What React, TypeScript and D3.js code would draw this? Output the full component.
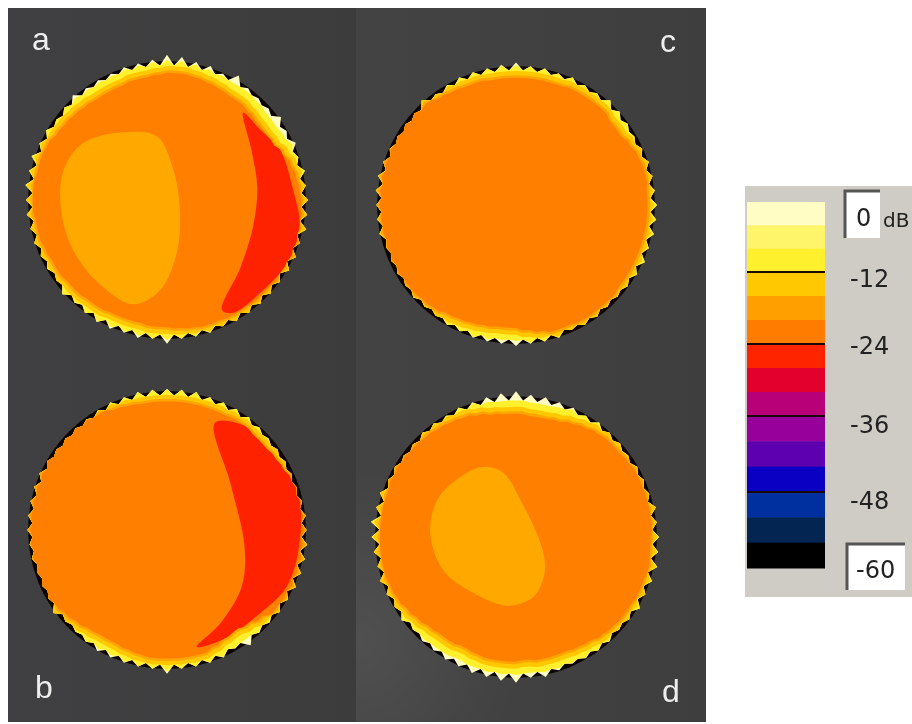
import * as d3 from "d3";

// colour map, one band every 4 dB from 0 down to -60
const bandColors = ["#fffcc4", "#fff56a", "#fff02e", "#ffc800", "#ffa000", "#ff7c00", "#ff2400", "#e4002c", "#b80078", "#98009c", "#5c00b0", "#0a00c4", "#0030a0", "#022552", "#000000"];
const bandStep = 4;
const tickDb = [-12, -24, -36, -48];
// rim colours from the outside in, with how far above the orange body each one starts
const rimColors = ["#fffcc4", "#fff02e", "#ffc800", "#ffa400"];
const rimDepths = [0.105, 0.06, 0.03, 0.012];

// clockwise from the top, one value per 6 degrees, radius as a share of the sphere radius
const peaksA = [1.03, 1.02, 1.0, 1.0, 0.98, 1.02, 0.98, 0.97, 0.97, 1.0, 0.98, 1.0, 0.98, 1.0, 0.99, 1.0, 1.0, 1.01, 0.99, 1.0, 1.0, 0.99, 0.99, 0.99, 0.99, 0.99, 0.98, 0.99, 0.99, 0.99, 1.02, 0.99, 1.0, 0.99, 1.0, 1.0, 0.99, 0.98, 1.0, 0.97, 0.98, 0.98, 0.99, 0.99, 1.0, 1.0, 1.01, 1.0, 1.01, 0.99, 0.99, 0.97, 0.98, 1.0, 0.98, 0.98, 0.98, 0.99, 0.99, 1.0];
const innerA = [0.89, 0.89, 0.88, 0.87, 0.86, 0.85, 0.85, 0.84, 0.83, 0.83, 0.84, 0.87, 0.9, 0.92, 0.93, 0.94, 0.95, 0.95, 0.96, 0.96, 0.95, 0.95, 0.94, 0.94, 0.93, 0.93, 0.92, 0.92, 0.91, 0.9, 0.89, 0.89, 0.88, 0.88, 0.88, 0.89, 0.89, 0.9, 0.9, 0.91, 0.91, 0.92, 0.93, 0.93, 0.94, 0.94, 0.94, 0.93, 0.93, 0.92, 0.9, 0.89, 0.88, 0.87, 0.86, 0.86, 0.86, 0.87, 0.87, 0.88];
const peaksB = [1.0, 1.0, 1.0, 0.99, 0.99, 0.99, 0.99, 0.98, 0.97, 0.97, 0.97, 0.97, 0.97, 0.98, 0.99, 0.99, 1.0, 1.0, 1.0, 1.0, 0.99, 0.99, 0.98, 0.98, 1.01, 0.97, 0.99, 0.99, 0.99, 0.99, 1.02, 0.99, 0.99, 0.99, 0.99, 0.99, 0.98, 0.97, 0.97, 1.0, 0.97, 0.97, 0.97, 0.98, 0.98, 0.99, 0.99, 0.99, 0.99, 0.99, 0.98, 0.97, 0.97, 0.97, 0.97, 0.98, 0.99, 0.99, 1.0, 1.0];
const innerB = [0.9, 0.9, 0.9, 0.9, 0.9, 0.91, 0.91, 0.9, 0.9, 0.91, 0.92, 0.94, 0.95, 0.96, 0.96, 0.96, 0.96, 0.96, 0.96, 0.96, 0.95, 0.94, 0.9, 0.87, 0.85, 0.86, 0.88, 0.9, 0.9, 0.9, 0.9, 0.9, 0.89, 0.88, 0.87, 0.87, 0.88, 0.9, 0.92, 0.94, 0.96, 0.96, 0.96, 0.96, 0.96, 0.96, 0.96, 0.96, 0.96, 0.96, 0.97, 0.97, 0.97, 0.96, 0.95, 0.94, 0.92, 0.91, 0.9, 0.9];
const peaksC = [1.01, 0.99, 0.99, 0.98, 0.99, 0.98, 0.98, 1.0, 0.99, 0.98, 0.97, 0.98, 0.99, 0.99, 0.99, 1.0, 1.0, 1.0, 0.99, 1.0, 0.99, 0.98, 0.97, 0.97, 0.98, 0.98, 0.97, 0.99, 0.99, 0.99, 1.0, 0.99, 0.99, 0.99, 0.98, 0.98, 0.97, 0.97, 0.98, 0.97, 0.97, 0.97, 0.97, 0.99, 0.99, 0.99, 1.0, 1.0, 0.99, 0.98, 0.97, 0.97, 0.97, 1.0, 0.97, 0.98, 0.99, 0.99, 0.99, 1.0];
const innerC = [0.89, 0.89, 0.89, 0.89, 0.9, 0.9, 0.9, 0.9, 0.88, 0.88, 0.9, 0.92, 0.93, 0.93, 0.92, 0.92, 0.92, 0.92, 0.92, 0.92, 0.92, 0.92, 0.93, 0.93, 0.93, 0.93, 0.92, 0.92, 0.9, 0.88, 0.86, 0.86, 0.87, 0.88, 0.89, 0.9, 0.92, 0.93, 0.94, 0.94, 0.95, 0.95, 0.95, 0.95, 0.95, 0.96, 0.96, 0.96, 0.96, 0.96, 0.96, 0.96, 0.96, 0.95, 0.92, 0.91, 0.9, 0.9, 0.89, 0.89];
const peaksD = [1.02, 1.0, 1.0, 0.99, 0.99, 0.98, 0.99, 0.98, 0.98, 0.97, 0.98, 0.98, 0.98, 1.0, 0.99, 1.0, 1.0, 1.01, 1.0, 0.99, 1.0, 0.98, 0.97, 0.98, 0.98, 0.98, 0.97, 0.98, 1.0, 0.99, 1.02, 1.01, 1.0, 1.0, 0.99, 0.99, 0.98, 0.98, 0.97, 0.99, 0.98, 0.99, 1.0, 0.99, 1.0, 1.01, 1.02, 1.0, 1.0, 0.98, 0.98, 0.97, 0.97, 0.98, 0.98, 0.98, 0.99, 0.99, 1.0, 1.01];
const innerD = [0.85, 0.84, 0.84, 0.85, 0.87, 0.89, 0.91, 0.92, 0.92, 0.93, 0.94, 0.94, 0.94, 0.94, 0.94, 0.93, 0.93, 0.94, 0.93, 0.93, 0.92, 0.92, 0.91, 0.9, 0.88, 0.87, 0.86, 0.86, 0.86, 0.85, 0.86, 0.86, 0.86, 0.85, 0.84, 0.85, 0.85, 0.86, 0.88, 0.9, 0.92, 0.93, 0.94, 0.94, 0.94, 0.94, 0.94, 0.94, 0.94, 0.95, 0.95, 0.95, 0.94, 0.93, 0.92, 0.91, 0.9, 0.88, 0.86, 0.85];

// contours inside the sphere, x and y run from -1 to 1
const redA: [number, number][] = [[0.54, 0.62], [0.6, 0.35], [0.64, 0.09], [0.61, -0.19], [0.52, -0.48], [0.39, -0.78], [0.47, -0.8], [0.66, -0.66], [0.85, -0.45], [0.94, -0.19], [0.89, 0.09], [0.8, 0.36], [0.66, 0.5]];
const goldA: [number, number][] = [[-0.31, 0.48], [-0.07, 0.45], [0.04, 0.23], [0.09, -0.05], [0.07, -0.37], [-0.05, -0.64], [-0.24, -0.74], [-0.45, -0.62], [-0.64, -0.4], [-0.74, -0.14], [-0.74, 0.19], [-0.6, 0.4]];
const redB: [number, number][] = [[0.34, 0.76], [0.45, 0.33], [0.55, -0.12], [0.53, -0.4], [0.38, -0.66], [0.21, -0.83], [0.43, -0.76], [0.66, -0.59], [0.85, -0.4], [0.94, -0.09], [0.93, 0.26], [0.78, 0.52], [0.57, 0.73]];
const goldD: [number, number][] = [[-0.23, 0.49], [-0.09, 0.45], [0.03, 0.26], [0.18, -0.07], [0.2, -0.25], [0.12, -0.42], [-0.06, -0.48], [-0.3, -0.39], [-0.51, -0.23], [-0.6, 0.03], [-0.55, 0.26], [-0.39, 0.42]];

const panelLabels = ["a", "b", "c", "d"];

const legendY = d3.scaleLinear().domain([0, -12, -24, -36, -48, -60]).range([202, 272, 344, 416, 492, 568]);
const valley = 0.955;

// outline of the sphere, cut off at `depth` above the orange body (Infinity = the full teeth)
function rimPath(peaks: number[], inner: number[], depth: number, radius: number) {
  const pts: [number, number][] = [];
  peaks.forEach((p, i) => {
    const base = inner[i];
    pts.push([(i * 6 * Math.PI) / 180, Math.min(p, base + depth) * radius]);
    const low = Math.min(p - 0.02, valley);
    pts.push([((i + 0.5) * 6 * Math.PI) / 180, Math.min(low, base + depth) * radius]);
  });
  return d3.lineRadial().curve(d3.curveLinearClosed)(pts) as string;
}

function Sphere({ id, cx, cy, radius, peaks, inner, red, gold }: { id: string; cx: number; cy: number; radius: number; peaks: number[]; inner: number[]; red?: [number, number][]; gold?: [number, number][] }) {
  const x = d3.scaleLinear().domain([-1, 1]).range([-radius, radius]);
  const y = d3.scaleLinear().domain([-1, 1]).range([radius, -radius]);
  const contour = d3.line<[number, number]>().x((d) => x(d[0])).y((d) => y(d[1])).curve(d3.curveCatmullRomClosed.alpha(0.5));
  return (
    <g transform={`translate(${cx},${cy})`} filter="url(#soft)">
      <circle r={radius * 0.985} fill="#0a0400" />
      <path d={rimPath(peaks, inner, Infinity, radius)} fill={rimColors[0]} />
      {rimDepths.map((depth, i) => (
        <path key={i} d={rimPath(peaks, inner, depth, radius)} fill={rimColors[i + 1] ?? "#ff8000"} />
      ))}
      <clipPath id={`clip-${id}`}>
        <path d={rimPath(peaks, inner, 0.012, radius)} />
      </clipPath>
      {gold && <path d={contour(gold) as string} fill="#ffa800" />}
      {red && <path d={contour(red) as string} fill={bandColors[6]} clipPath={`url(#clip-${id})`} />}
    </g>
  );
}

export default function App() {
  const bandTops = d3.range(0, 60, bandStep);
  return (
    <svg width={912} height={724} style={{ position: "absolute", left: 0, top: 0, background: "#fff" }}>
      <defs>
        <filter id="soft" x="-5%" y="-5%" width="110%" height="110%">
          <feGaussianBlur stdDeviation="0.7" />
        </filter>
        <filter id="softText" x="-10%" y="-10%" width="120%" height="120%">
          <feGaussianBlur stdDeviation="0.4" />
        </filter>
        <linearGradient id="bgL" x1="0" x2="1" y1="0" y2="0">
          <stop offset="0" stopColor="#404042" />
          <stop offset="1" stopColor="#3c3c3c" />
        </linearGradient>
        <linearGradient id="bgR" x1="0" x2="1" y1="0" y2="0">
          <stop offset="0" stopColor="#434343" />
          <stop offset="1" stopColor="#3e3e3e" />
        </linearGradient>
        <radialGradient id="glow" gradientUnits="userSpaceOnUse" cx={356} cy={640} r={170}>
          <stop offset="0" stopColor="#fff" stopOpacity={0.07} />
          <stop offset="1" stopColor="#fff" stopOpacity={0} />
        </radialGradient>
      </defs>

      <rect x={8} y={8} width={348} height={714} fill="url(#bgL)" />
      <rect x={356} y={8} width={350} height={714} fill="url(#bgR)" />
      <rect x={356} y={470} width={170} height={252} fill="url(#glow)" />

      <Sphere id="a" cx={167} cy={200} radius={141} peaks={peaksA} inner={innerA} red={redA} gold={goldA} />
      <Sphere id="b" cx={167} cy={530} radius={141} peaks={peaksB} inner={innerB} red={redB} />
      <Sphere id="c" cx={516} cy={205} radius={141} peaks={peaksC} inner={innerC} />
      <Sphere id="d" cx={516} cy={537} radius={143} peaks={peaksD} inner={innerD} gold={goldD} />

      <g fill="#eeeeee" fontFamily="'Liberation Sans', sans-serif" fontSize={32} textAnchor="middle" filter="url(#softText)">
        <text x={41} y={50}>{panelLabels[0]}</text>
        <text x={44} y={698}>{panelLabels[1]}</text>
        <text x={668} y={52}>{panelLabels[2]}</text>
        <text x={671} y={702}>{panelLabels[3]}</text>
      </g>

      <rect x={745} y={186} width={167} height={411} fill="#cfccc5" />
      {bandTops.map((db, i) => (
        <rect key={db} x={747} y={legendY(-db)} width={78} height={legendY(-db - bandStep) - legendY(-db) + 0.5} fill={bandColors[i]} />
      ))}
      {tickDb.map((db) => (
        <line key={db} x1={747} x2={825} y1={legendY(db)} y2={legendY(db)} stroke="#1a0808" strokeWidth={2} />
      ))}

      <rect x={845} y={191} width={35} height={47} fill="#fff" />
      <path d="M845,238V191H880" fill="none" stroke="#555" strokeWidth={3} />
      <rect x={847} y={544} width={58} height={46} fill="#fff" />
      <path d="M847,590V544H905" fill="none" stroke="#555" strokeWidth={3} />

      <g fill="#222" fontFamily="'DejaVu Sans', sans-serif" fontSize={24} filter="url(#softText)">
        {tickDb.map((db) => (
          <text key={db} x={850} y={legendY(db) + (db === -12 ? 15 : db === -24 ? 10 : 17)}>{db}</text>
        ))}
        <text x={856} y={226}>0</text>
        <text x={883} y={227} fontSize={20}>dB</text>
        <text x={856} y={578}>-60</text>
      </g>
    </svg>
  );
}
